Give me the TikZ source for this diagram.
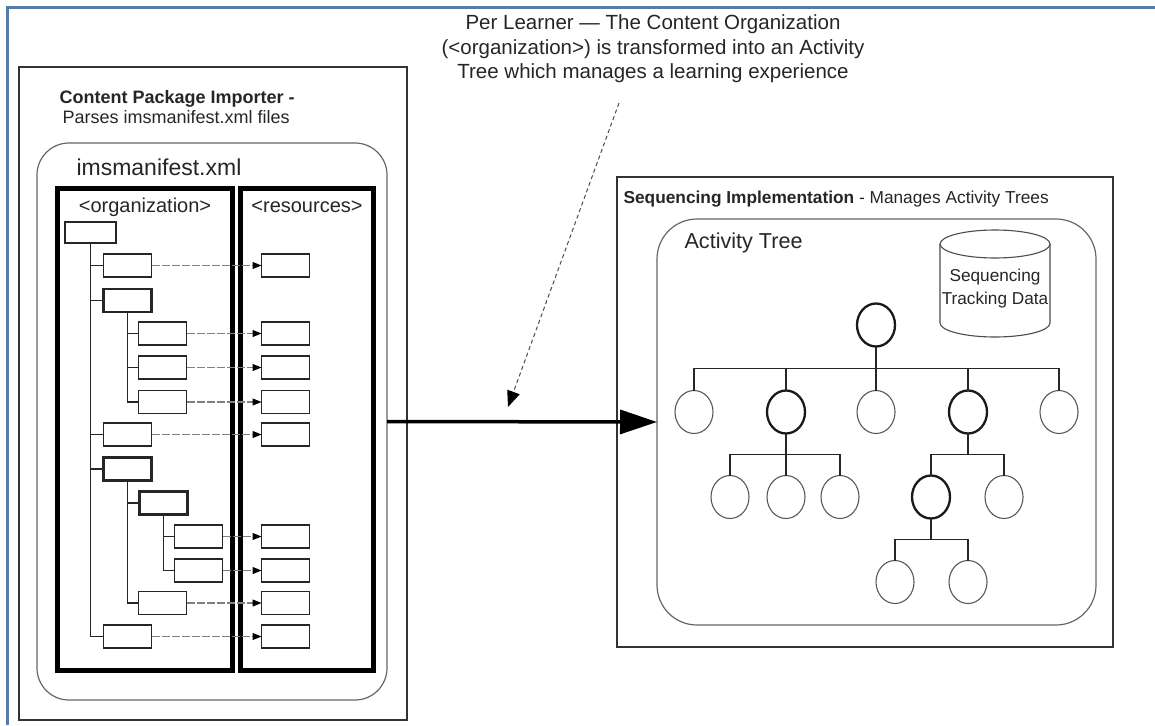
\documentclass[tikz,border=0pt]{standalone}
\usepackage{fontspec}
\setmainfont{Liberation Sans}
\usetikzlibrary{arrows.meta,shapes.geometric,calc}
\definecolor{frameblue}{HTML}{4A7EBB}
\begin{document}
\begin{tikzpicture}[x=1pt,y=-1pt,
  outerbox/.style={draw=black!80, line width=1.3pt, inner sep=0pt, outer sep=0pt},
  roundbox/.style={draw=black!60, line width=1.2pt, rounded corners=#1, inner sep=0pt, outer sep=0pt},
  heavybox/.style={draw=black, line width=5pt, inner sep=0pt, outer sep=0pt},
  item/.style={draw=black!85, line width=1.3pt, inner sep=0pt, outer sep=0pt, minimum width=48pt, minimum height=23pt},
  itemthick/.style={item, line width=2.8pt},
  tline/.style={draw=black!85, line width=1.2pt},
  resarrow/.style={draw=black!50, line width=1.1pt, dash pattern=on 8pt off 2pt, -{Triangle[length=9pt,width=7pt,color=black]}},
  act/.style={ellipse, draw=black!65, line width=1.1pt, inner sep=0pt, outer sep=0pt, minimum width=38pt, minimum height=43pt},
  actthick/.style={act, draw=black!90, line width=2.3pt},
  branch/.style={to path={(\tikztostart) |- ($(\tikztostart)!.5!(\tikztotarget)$) -| (\tikztotarget)}},
]
\useasboundingbox (0,0) rectangle (1155,725);
\fill[white] (0,0) rectangle (1155,725);
\draw[frameblue, line width=2.8pt] (7.5,725) -- (7.5,7.5) -- (1155,7.5);

% ---------- note at top ----------
\node[align=center, font=\fontsize{20.5}{24.5}\selectfont, text=black!85] (note) at (653,49)
  {Per Learner --- The Content Organization\\(<organization>) is transformed into an Activity\\Tree which manages a learning experience};
\coordinate (ntail) at (619,103);
\coordinate (nhead) at (508,407);
\draw[draw=black!70, line width=1pt, dash pattern=on 4pt off 3pt, -{Triangle[length=16pt,width=13pt,color=black]}] (ntail) -- (nhead);

% ---------- left: content package importer ----------
\node[outerbox, minimum width=388pt, minimum height=653pt] (imp) at (213,393.5) {};
\node[anchor=west, align=left, font=\fontsize{18}{20}\selectfont, text=black!85] (imptitle) at (56,107)
  {\textbf{Content Package Importer -}\\\,Parses imsmanifest.xml files};
\node[roundbox=32pt, minimum width=350pt, minimum height=557pt] (mani) at (212,421.5) {};
\node[anchor=west, font=\fontsize{23}{26}\selectfont, text=black!85] (manititle) at (73,167) {imsmanifest.xml};
\node[heavybox, minimum width=175pt, minimum height=482pt] (org) at (144.5,429) {};
\node[heavybox, minimum width=133pt, minimum height=482pt] (res) at (306.5,429) {};
\node[font=\fontsize{20}{22}\selectfont, text=black!85] (orgt) at (145,207) {<organization>};
\node[font=\fontsize{20}{22}\selectfont, text=black!85] (rest) at (307,207) {<resources>};

% organization tree
\node[itemthick, minimum width=51pt, minimum height=21pt] (root) at (90.5,232.5) {};
\node[item]      (A)   at (127.5,265.5) {};
\node[itemthick] (B)   at (127.5,300.5) {};
\node[item]      (B1)  at (162.5,333.5) {};
\node[item]      (B2)  at (162.5,367.5) {};
\node[item]      (B3)  at (162.5,402) {};
\node[item]      (C)   at (127.5,434.5) {};
\node[itemthick] (D)   at (127.5,469) {};
\node[itemthick] (D1)  at (163.5,503) {};
\node[item]      (D1a) at (198.5,536.5) {};
\node[item]      (D1b) at (198.5,570.5) {};
\node[item]      (D2)  at (162.5,603) {};
\node[item]      (E)   at (127.5,636.5) {};

\foreach \c in {A,B,C,D,E} \draw[tline] (root.south) |- (\c.west);
\foreach \c in {B1,B2,B3} \draw[tline] (B.south) |- (\c.west);
\foreach \c in {D1,D2} \draw[tline] (D.south) |- (\c.west);
\foreach \c in {D1a,D1b} \draw[tline] (D1.south) |- (\c.west);

% resources
\node[item] (R1) at (285.5,265.5) {};
\node[item] (R2) at (285.5,333.5) {};
\node[item] (R3) at (285.5,367.5) {};
\node[item] (R4) at (285.5,402) {};
\node[item] (R5) at (285.5,434.5) {};
\node[item] (R6) at (285.5,536.5) {};
\node[item] (R7) at (285.5,570.5) {};
\node[item] (R8) at (285.5,603) {};
\node[item] (R9) at (285.5,636.5) {};

\draw[resarrow] (A.east) -- (R1.west);
\draw[resarrow] (B1.east) -- (R2.west);
\draw[resarrow] (B2.east) -- (R3.west);
\draw[resarrow] (B3.east) -- (R4.west);
\draw[resarrow] (C.east) -- (R5.west);
\draw[resarrow] (D1a.east) -- (R6.west);
\draw[resarrow] (D1b.east) -- (R7.west);
\draw[resarrow] (D2.east) -- (R8.west);
\draw[resarrow] (E.east) -- (R9.west);

% ---------- right: sequencing implementation ----------
\node[outerbox, minimum width=496pt, minimum height=470pt] (seq) at (865,412) {};
\node[anchor=west, font=\fontsize{17.3}{20}\selectfont, text=black!85] (seqtitle) at (620,199)
  {\textbf{Sequencing Implementation} - Manages Activity Trees};
\node[roundbox=40pt, minimum width=439pt, minimum height=406pt] (atree) at (876.5,422) {};
\node[anchor=west, font=\fontsize{21.6}{24}\selectfont, text=black!85] (atitle) at (681,243) {Activity Tree};

% cylinder
\draw[draw=black!70, line width=1.1pt, fill=white]
  (940,244) -- (940,323) arc[start angle=180, end angle=0, x radius=55, y radius=14] -- (1050,244);
\draw[draw=black!70, line width=1.1pt] (995,244) ellipse [x radius=55, y radius=14];
\node[align=center, font=\fontsize{17.2}{23}\selectfont, text=black!85] (db) at (995,289)
  {Sequencing\\Tracking Data};

% activity tree nodes
\node[actthick] (c0) at (876,325) {};
\node[act]      (a1) at (694,412) {};
\node[actthick] (a2) at (786,412) {};
\node[act]      (a3) at (876,412) {};
\node[actthick] (a4) at (968,412) {};
\node[act]      (a5) at (1059,412) {};
\node[act]      (b1) at (730,497) {};
\node[act]      (b2) at (786,497) {};
\node[act]      (b3) at (840,497) {};
\node[actthick] (b4) at (931,497) {};
\node[act]      (b5) at (1004,497) {};
\node[act]      (d1) at (895,582) {};
\node[act]      (d2) at (968,582) {};

\foreach \c in {a1,a2,a3,a4,a5} \draw[tline] (c0.south) to[branch] (\c.north);
\foreach \c in {b1,b2,b3} \draw[tline] (a2.south) to[branch] (\c.north);
\foreach \c in {b4,b5} \draw[tline] (a4.south) to[branch] (\c.north);
\foreach \c in {d1,d2} \draw[tline] (b4.south) to[branch] (\c.north);

% main arrow
\draw[draw=black, line width=3.5pt, -{Triangle[length=37pt,width=24pt]}] (mani.east) -- (atree.west);
\end{tikzpicture}
\end{document}
